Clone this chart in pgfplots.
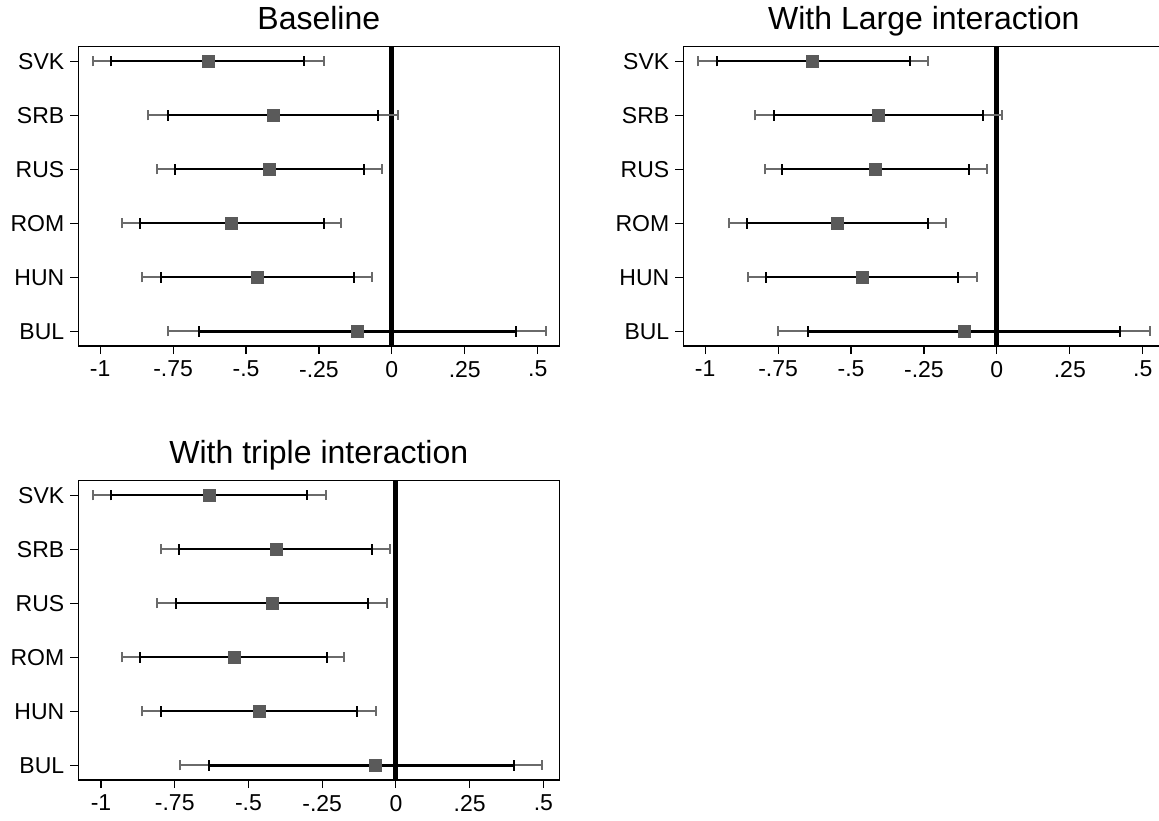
\documentclass[border=0pt]{standalone}
\usepackage{pgfplots}
\pgfplotsset{compat=1.18}
\usepackage{pgfplotstable}
\usepackage{fontspec}
\setmainfont{Liberation Sans}
\definecolor{ogray}{HTML}{6A6A6A}
\definecolor{mgray}{HTML}{5A5A5A}

% y: BUL=0 ... SVK=5 ; b = estimate ; ilo/ihi inner CI ; olo/ohi outer CI
\pgfplotstableread{
y b ilo ihi olo ohi
5 -0.630 -0.963 -0.300 -1.025 -0.234
4 -0.407 -0.766 -0.048 -0.835 0.021
3 -0.420 -0.744 -0.094 -0.806 -0.033
2 -0.549 -0.863 -0.234 -0.925 -0.175
1 -0.461 -0.793 -0.130 -0.857 -0.068
0 -0.119 -0.661 0.425 -0.766 0.530
}\tabA
\pgfplotstableread{
y b ilo ihi olo ohi
5 -0.631 -0.959 -0.299 -1.024 -0.236
4 -0.405 -0.763 -0.048 -0.830 0.019
3 -0.415 -0.735 -0.096 -0.796 -0.034
2 -0.547 -0.858 -0.235 -0.919 -0.175
1 -0.462 -0.792 -0.132 -0.854 -0.069
0 -0.113 -0.647 0.423 -0.749 0.524
}\tabB
\pgfplotstableread{
y b ilo ihi olo ohi
5 -0.632 -0.966 -0.300 -1.026 -0.236
4 -0.404 -0.734 -0.082 -0.797 -0.020
3 -0.419 -0.746 -0.096 -0.810 -0.031
2 -0.548 -0.868 -0.234 -0.928 -0.175
1 -0.463 -0.796 -0.131 -0.861 -0.067
0 -0.071 -0.635 0.399 -0.733 0.497
}\tabC

\pgfplotsset{coef/.style={
  scale only axis, width=240.5pt, height=149.65pt,
  anchor=south west,
  ymin=-0.27, ymax=5.27,
  xtick={-1,-0.75,-0.5,-0.25,0,0.25,0.5},
  xticklabels={-1,-.75,-.5,-.25,0,.25,.5},
  ytick={0,1,2,3,4,5}, yticklabels={BUL,HUN,ROM,RUS,SRB,SVK},
  tick align=outside, major tick length=4pt,
  xtick pos=bottom, ytick pos=left,
  tick style={black, line width=0.55pt},
  axis line style={line width=0.55pt},
  ticklabel style={font=\fontsize{11.5}{13}\selectfont},
  yticklabel style={xshift=0.5pt},
  every axis title/.style={font=\fontsize{16}{18}\selectfont, at={(0.5,1)}, anchor=base, yshift=8.8pt},
}}

\newcommand{\coefplots}[1]{%
  \addplot[black, line width=2.5pt, forget plot] coordinates {(0,-0.27) (0,5.27)};
  \addplot[only marks, mark=none, forget plot,
    error bars/.cd, x dir=both, x explicit,
    error bar style={ogray, line width=1pt},
    error mark=|, error mark options={ogray, line width=1pt, mark size=2.5pt}]
    table[x=b, y=y, x error plus expr=\thisrow{ohi}-\thisrow{b}, x error minus expr=\thisrow{b}-\thisrow{olo}] {#1};
  \addplot[only marks, mark=none, forget plot,
    error bars/.cd, x dir=both, x explicit,
    error bar style={black, line width=1.1pt},
    error mark=|, error mark options={black, line width=1pt, mark size=2.6pt}]
    table[x=b, y=y, x error plus expr=\thisrow{ihi}-\thisrow{b}, x error minus expr=\thisrow{b}-\thisrow{ilo}] {#1};
  \addplot[only marks, mark=square*, mark size=3pt, color=mgray, forget plot] table[x=b, y=y] {#1};
}

\begin{document}
\begin{tikzpicture}
\begin{axis}[coef, at={(39.15pt,237pt)}, xmin=-1.075, xmax=0.574, title={Baseline}]
\coefplots{\tabA}
\end{axis}
\begin{axis}[coef, at={(341.65pt,237pt)}, xmin=-1.075, xmax=0.574, title={With Large interaction}]
\coefplots{\tabB}
\end{axis}
\begin{axis}[coef, at={(39.15pt,20pt)}, xmin=-1.077, xmax=0.554, title={With triple interaction}]
\coefplots{\tabC}
\end{axis}
\pgfresetboundingbox
\path[use as bounding box] (0,0) rectangle (579.5pt,410pt);
\end{tikzpicture}
\end{document}
